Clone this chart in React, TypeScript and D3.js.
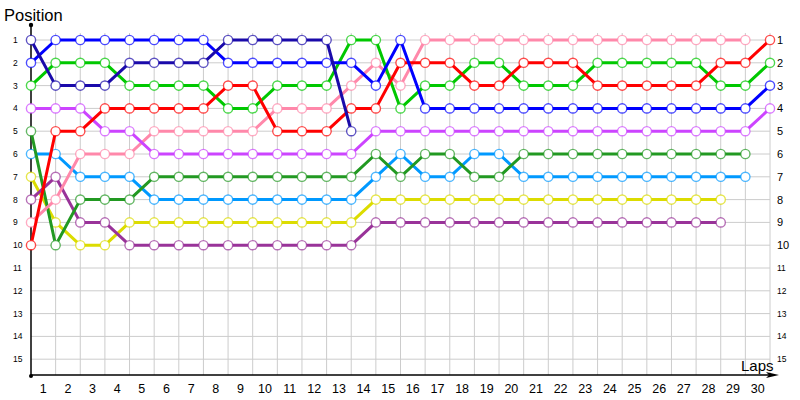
import React from 'react';
import * as d3 from 'd3';

const lapTicks = [1,2,3,4,5,6,7,8,9,10,11,12,13,14,15,16,17,18,19,20,21,22,23,24,25,26,27,28,29,30];
const positionTicks = [1,2,3,4,5,6,7,8,9,10,11,12,13,14,15];

// positions per lap, starting at lap 0 (grid)
const yellow = [7,9,10,10,9,9,9,9,9,9,9,9,9,9,8,8,8,8,8,8,8,8,8,8,8,8,8,8,8];
const purple = [8,7,9,9,10,10,10,10,10,10,10,10,10,10,9,9,9,9,9,9,9,9,9,9,9,9,9,9,9];
const lightBlue = [6,6,7,7,7,8,8,8,8,8,8,8,8,8,7,6,7,7,6,6,7,7,7,7,7,7,7,7,7,7];
const darkGreen = [5,10,8,8,8,7,7,7,7,7,7,7,7,7,6,7,6,6,7,7,6,6,6,6,6,6,6,6,6,6];
const pink = [9,8,6,6,6,5,5,5,5,5,4,4,4,3,2,3,1,1,1,1,1,1,1,1,1,1,1,1,1,1];
const violet = [4,4,4,5,5,6,6,6,6,6,6,6,6,6,5,5,5,5,5,5,5,5,5,5,5,5,5,5,5,5,4];
const green = [3,2,2,2,3,3,3,3,4,4,3,3,3,1,1,4,3,3,2,2,3,3,3,2,2,2,2,2,3,3,2];
const red = [10,5,5,4,4,4,4,4,3,3,5,5,5,4,4,2,2,2,3,3,2,2,2,3,3,3,3,3,2,2,1];
const blue = [2,1,1,1,1,1,1,1,2,2,2,2,2,2,3,1,4,4,4,4,4,4,4,4,4,4,4,4,4,4,3];
const darkBlue = [1,3,3,3,2,2,2,2,1,1,1,1,1,5];

const seriesList = [
  { values: yellow, color: '#dcdc00' },
  { values: purple, color: '#993399' },
  { values: lightBlue, color: '#0099ff' },
  { values: darkGreen, color: '#229922' },
  { values: pink, color: '#ff88aa' },
  { values: violet, color: '#cc44ff' },
  { values: green, color: '#00c800' },
  { values: red, color: '#ff0000' },
  { values: blue, color: '#0000ff' },
  { values: darkBlue, color: '#1a0aaa' },
];

export default function App() {
  const x = d3.scaleLinear().domain([0, 30]).range([31, 770]);
  const y = d3.scaleLinear().domain([1, 15]).range([40, 359.2]);
  const line = d3.line<number>().x((_, i) => x(i)).y((d) => y(d));
  const axisY = 375;
  const font = "'Liberation Sans', Arial, sans-serif";

  return (
    <svg width={800} height={400} style={{ position: 'absolute', left: 0, top: 0, background: '#fff' }}>
      <rect width={800} height={400} fill="#fff" />
      {/* grid */}
      {lapTicks.map((l) => (
        <line key={'vg' + l} x1={x(l)} x2={x(l)} y1={33} y2={axisY} stroke="#cccccc" strokeWidth={1} />
      ))}
      {positionTicks.map((p) => (
        <line key={'hg' + p} x1={x(0)} x2={x(30)} y1={y(p)} y2={y(p)} stroke="#cccccc" strokeWidth={1} />
      ))}
      {/* axes */}
      <line x1={x(0)} x2={x(0)} y1={25} y2={axisY} stroke="#000" strokeWidth={1.5} />
      <circle cx={x(0)} cy={25} r={2.2} fill="#000" />
      <circle cx={x(0)} cy={axisY + 1} r={2} fill="#000" />
      <line x1={x(0)} x2={772} y1={axisY} y2={axisY} stroke="#000" strokeWidth={1.5} />
      <path d={`M766,${axisY - 3} L779,${axisY} L766,${axisY + 3} L769,${axisY} Z`} fill="#000" />
      {/* left labels */}
      {positionTicks.map((p) => (
        <text key={'ll' + p} x={13} y={y(p) + 3} fontFamily={font} fontSize={8.5} fill="#000">{p}</text>
      ))}
      {/* right labels */}
      {positionTicks.map((p) => (
        <text key={'rl' + p} x={777} y={y(p) + (p <= 10 ? 4 : 3)} fontFamily={font} fontSize={p <= 10 ? 11 : 8.5} fill="#000">{p}</text>
      ))}
      {/* bottom labels */}
      {lapTicks.map((l) => (
        <text key={'bl' + l} x={x(l - 0.5)} y={393} textAnchor="middle" fontFamily={font} fontSize={12.5} fill="#000">{l}</text>
      ))}
      <text x={4} y={21} fontFamily={font} fontSize={16.5} fill="#000">Position</text>
      <text x={741} y={371} fontFamily={font} fontSize={15} fill="#000">Laps</text>
      {/* series */}
      {seriesList.map((s, si) => (
        <g key={'s' + si}>
          <path d={line(s.values) || ''} fill="none" stroke={s.color} strokeWidth={3} strokeLinejoin="round" />
          {s.values.map((v, i) => (
            <circle key={i} cx={x(i)} cy={y(v)} r={4.6} fill="#fff" stroke={s.color} strokeOpacity={0.7} strokeWidth={1.4} />
          ))}
        </g>
      ))}
    </svg>
  );
}
